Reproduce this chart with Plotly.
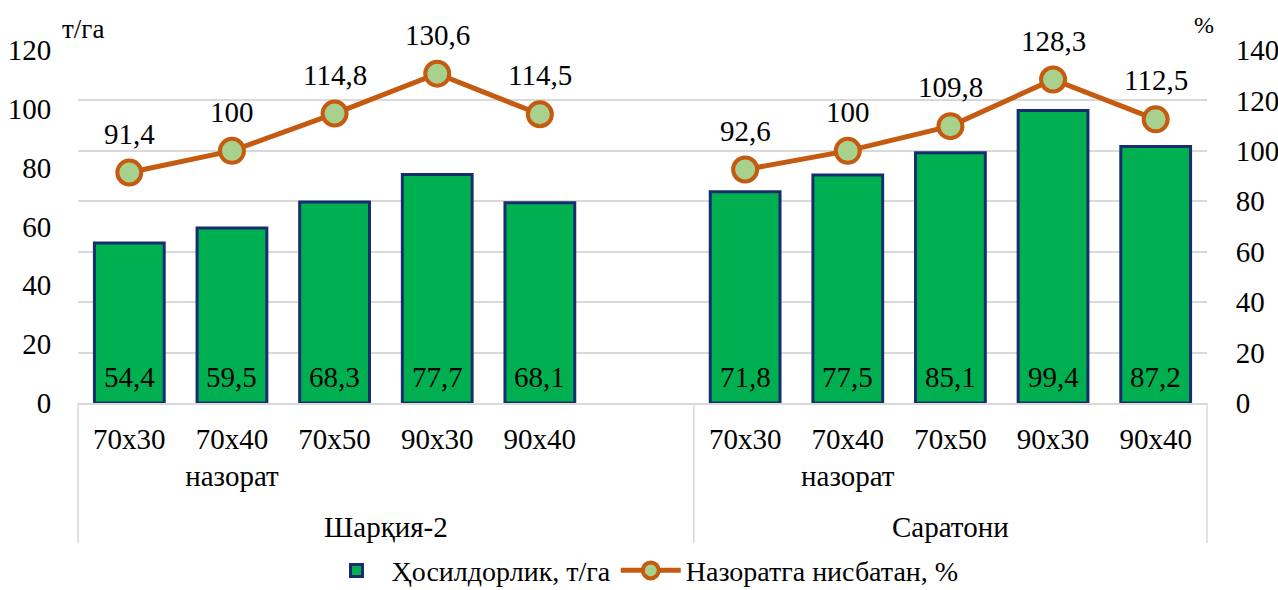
import plotly.graph_objects as go

# ---- data ----
groups = ["Шарқия-2", "Саратони"]
categories = ["70x30", "70x40<br>назорат", "70x50", "90x30", "90x40"]
yield_sharqiya = [54.4, 59.5, 68.3, 77.7, 68.1]
yield_saratoni = [71.8, 77.5, 85.1, 99.4, 87.2]
pct_sharqiya = [91.4, 100, 114.8, 130.6, 114.5]
pct_saratoni = [92.6, 100, 109.8, 128.3, 112.5]

bar_name = "Ҳосилдорлик, т/га"
line_name = "Назоратга нисбатан, %"

FONT = "Liberation Serif"
FS = 29
GREEN = "#00B050"
NAVY = "#172E6E"
ORANGE = "#C55A11"
LIGHTGREEN = "#A9D18E"
GRID = "#D9D9D9"

def fmt(v):
    return f"{v:g}".replace(".", ",")

n = len(categories)
# slot layout: group 1 occupies n+1 slots (one empty), group 2 occupies n slots
x1 = list(range(n))
x2 = [i + n + 1 for i in range(n)]
total_slots = 2 * n + 1
xs = x1 + x2
ys_bar = yield_sharqiya + yield_saratoni
ys_line = pct_sharqiya + pct_saratoni

fig = go.Figure()
fig.add_trace(go.Bar(
    x=xs, y=ys_bar, name=bar_name, width=0.68,
    marker=dict(color=GREEN, line=dict(color=NAVY, width=3)),
    yaxis="y",
))
fig.add_trace(go.Scatter(
    x=x1, y=pct_sharqiya, name=line_name, mode="lines+markers",
    line=dict(color=ORANGE, width=5),
    marker=dict(size=24, color=LIGHTGREEN, line=dict(color=ORANGE, width=4)),
    yaxis="y2",
))
fig.add_trace(go.Scatter(
    x=x2, y=pct_saratoni, name=line_name, mode="lines+markers", showlegend=False,
    line=dict(color=ORANGE, width=5),
    marker=dict(size=24, color=LIGHTGREEN, line=dict(color=ORANGE, width=4)),
    yaxis="y2",
))

annotations = []
for x, v in zip(xs, ys_bar):
    annotations.append(dict(x=x, y=0, xref="x", yref="y", text=fmt(v), showarrow=False,
                            yanchor="middle", yshift=26, font=dict(family=FONT, size=FS, color="black")))
for x, v in zip(xs, ys_line):
    annotations.append(dict(x=x, y=v, xref="x", yref="y2", text=fmt(v), showarrow=False,
                            yanchor="middle", yshift=39, font=dict(family=FONT, size=FS, color="black")))

# group labels
g_bounds = [(-0.5, n + 0.5), (n + 0.5, total_slots - 0.5)]
for g, (a, b) in zip(groups, g_bounds):
    annotations.append(dict(x=(a + b) / 2, y=-0.352, xref="x", yref="paper", text=g, showarrow=False,
                            yanchor="middle", font=dict(family=FONT, size=FS, color="black")))

annotations.append(dict(x=0.0, y=1.0, xref="paper", yref="paper", text="т/га", showarrow=False,
                        xanchor="left", yanchor="bottom", xshift=-18, yshift=4,
                        font=dict(family=FONT, size=FS - 2, color="black")))
annotations.append(dict(x=1.0, y=1.0, xref="paper", yref="paper", text="%", showarrow=False,
                        xanchor="center", yanchor="bottom", xshift=-3, yshift=10,
                        font=dict(family=FONT, size=FS - 5, color="black")))

shapes = []
for xb in [-0.5, n + 0.5, total_slots - 0.5]:
    px = (xb + 0.5) / total_slots
    shapes.append(dict(type="line", xref="paper", yref="paper", x0=px, x1=px, y0=0, y1=-0.397,
                       line=dict(color=GRID, width=1.5)))

fig.update_layout(
    width=1278, height=590,
    margin=dict(l=78, r=71, t=50, b=187, autoexpand=False),
    paper_bgcolor="white", plot_bgcolor="white",
    font=dict(family=FONT, size=FS, color="black"),
    xaxis=dict(
        range=[-0.5, total_slots - 0.5], tickvals=xs, ticktext=categories * 2,
        showgrid=False, zeroline=False, showline=True, linecolor=GRID, linewidth=1.5,
        ticks="outside", ticklen=9, tickcolor="rgba(0,0,0,0)",
        tickfont=dict(family=FONT, size=FS), automargin=False,
    ),
    yaxis=dict(
        range=[0, 120], dtick=20, showgrid=False, zeroline=False, showline=False,
        tickfont=dict(family=FONT, size=FS), ticks="outside", ticklen=20, tickcolor="rgba(0,0,0,0)",
        automargin=False,
    ),
    yaxis2=dict(
        range=[0, 140], dtick=20, overlaying="y", side="right",
        showgrid=True, gridcolor=GRID, gridwidth=1.5, zeroline=False, showline=False,
        tickfont=dict(family=FONT, size=FS), ticks="outside", ticklen=22, tickcolor="rgba(0,0,0,0)",
        automargin=False, layer="below traces",
    ),
    legend=dict(orientation="h", x=0.5, xanchor="center", y=-0.475, yanchor="middle",
                font=dict(family=FONT, size=FS - 1), itemwidth=60, tracegroupgap=0),
    annotations=annotations,
    shapes=shapes,
)

fig.write_html("out.html", config={"displayModeBar": False},
               post_script="document.body.style.margin='0';document.body.style.overflow='hidden';")
